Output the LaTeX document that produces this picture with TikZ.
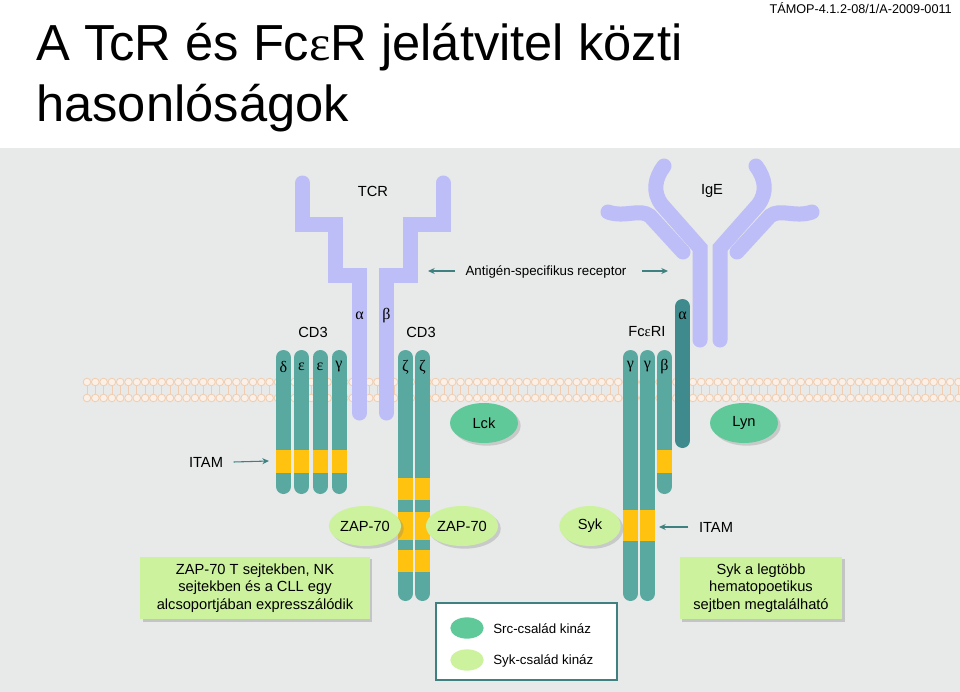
\documentclass[tikz,border=0pt]{standalone}
\usepackage{fontspec}
\setmainfont{Liberation Sans}
\newfontfamily\grk{Liberation Serif}
\usetikzlibrary{shadows,shapes.geometric,arrows.meta}
\definecolor{bgc}{HTML}{E8E9E9}
\definecolor{teal1}{HTML}{5AA9A1}
\definecolor{teal2}{HTML}{3E8A8C}
\definecolor{purp}{HTML}{BDBDF7}
\definecolor{yel}{HTML}{FFC20E}
\definecolor{memb}{HTML}{F0CDB0}
\definecolor{srcg}{HTML}{60C999}
\definecolor{sykg}{HTML}{CDF29E}
\definecolor{arr}{HTML}{3F8080}
\newcommand\mychain[4]{\draw[#4,line width=11.25pt,line cap=round] (#1,#2+7.5)--(#1,#3-7.5);}
\newcommand\myband[3]{\fill[yel] (#1-7.5,#2) rectangle (#1+7.5,#3);}
\tikzset{
  lbl/.style={font=\fontsize{11}{13}\selectfont,inner sep=1pt},
  gl/.style={font=\grk\fontsize{12}{14}\selectfont,inner sep=0pt},
  src/.style={ellipse,fill=srcg,minimum width=51pt,minimum height=30pt,inner sep=1pt,font=\fontsize{11}{13}\selectfont,drop shadow={opacity=0.3,shadow xshift=2pt,shadow yshift=-2pt}},
  syk/.style={ellipse,fill=sykg,minimum width=46pt,minimum height=30pt,inner sep=0.5pt,font=\fontsize{11}{13}\selectfont,drop shadow={opacity=0.3,shadow xshift=2pt,shadow yshift=-2pt}},
  tbox/.style={fill=sykg,align=center,font=\fontsize{11}{13}\selectfont,drop shadow={opacity=0.35,shadow xshift=2pt,shadow yshift=-2pt}},
  ar/.style={-{Stealth[length=5pt,width=4.5pt]},arr,line width=0.8pt},
  purpl/.style={purp,line width=11.25pt,line cap=round,line join=miter}
}
\begin{document}
\begin{tikzpicture}[x=0.75pt,y=-0.75pt]
\useasboundingbox (0,0) rectangle (960,692);
\fill[white] (0,0) rectangle (960,148);
\fill[bgc] (0,148) rectangle (960,692);
% title
\node[anchor=north west,align=left,inner sep=0pt,font=\fontsize{38}{46}\selectfont] (title) at (36,23) {A TcR és Fc\grk ε\rmfamily R jelátvitel közti\\hasonlóságok};
\node[anchor=north east,inner sep=0pt,font=\fontsize{9.5}{11}\selectfont] (tamop) at (952,2) {TÁMOP-4.1.2-08/1/A-2009-0011};
% membrane
\foreach \i in {0,...,105}{
  \pgfmathsetmacro\xx{87+8.3*\i}
  \draw[memb,line width=0.5pt] (\xx,386)--(\xx,394);
  \draw[memb,line width=0.6pt,fill=white!70!memb] (\xx,382) circle (3.8);
  \draw[memb,line width=0.6pt,fill=white!70!memb] (\xx,398) circle (3.8);
}
% TCR
\draw[purpl] (302.5,183)--(302.5,224)--(335.5,224)--(335.5,275)--(359.5,275)--(359.5,413);
\draw[purpl] (443,183)--(443,224)--(410,224)--(410,275)--(386.5,275)--(386.5,413);
% IgE
\draw[purp,line width=11.25pt,line cap=round] (700,340)--(700,248)--(662,205) .. controls (652,192) and (655,178) .. (664,166);
\draw[purp,line width=11.25pt,line cap=round] (720,340)--(720,248)--(758,205) .. controls (768,192) and (765,178) .. (756,166);
\draw[purp,line width=11.25pt,line cap=round] (683,252)--(650,216) .. controls (640,208) and (625,218) .. (608,212);
\draw[purp,line width=11.25pt,line cap=round] (737,252)--(770,216) .. controls (780,208) and (795,218) .. (812,212);
% chains
\foreach \x in {283.5,301.5,320,339}{\mychain{\x}{350}{494}{teal1}\myband{\x}{450}{473}}
\foreach \x in {405.5,422.5}{\mychain{\x}{350}{601}{teal1}\myband{\x}{478}{500}\myband{\x}{512}{540}\myband{\x}{550}{572}}
\foreach \x in {630.5,647.5}{\mychain{\x}{350}{601}{teal1}\myband{\x}{510}{541}}
\mychain{664.5}{350}{494}{teal1}\myband{664.5}{450}{473}
\mychain{682.5}{299}{448}{teal2}
% labels
\node[lbl] (tcr) at (373,191) {TCR};
\node[lbl] (ige) at (712,191) {IgE};
\node[lbl,font=\fontsize{10}{12}\selectfont] (asr) at (546,272) {Antigén-specifikus receptor};
\coordinate (al) at (428,271); \coordinate (arr) at (668,271);
\coordinate (alb) at (455,271); \coordinate (arb) at (642,271);
\draw[ar] (alb) -- (al);
\draw[ar] (arb) -- (arr);
\node[gl] (ta) at (359.5,316) {α};
\node[gl] (tb) at (386.5,316) {β};
\node[lbl] (cd3a) at (313,332) {CD3};
\node[lbl] (cd3b) at (421,332) {CD3};
\node[lbl] (fce) at (647,332) {Fc{\grk ε}RI};
\node[gl] (fa) at (682.5,316) {α};
\foreach \x/\g in {283.5/δ,301.5/ε,320/ε,339/γ,405.5/ζ,422.5/ζ,630.5/γ,647.5/γ,664.5/β}{\node[gl] at (\x,367) {\g};}
% kinases
\node[src] (lck) at (484,423) {Lck};
\node[src] (lyn) at (744,423) {Lyn};
\node[syk] (z1) at (365,526) {ZAP-70};
\node[syk] (z2) at (462,526) {ZAP-70};
\node[syk] (syk) at (590,526) {Syk};
% ITAM
\node[lbl] (itam1) at (206,462) {ITAM};
\coordinate (i1) at (269,461);
\draw[ar] (itam1.east)++(9,0) -- (i1);
\node[lbl] (itam2) at (716,527) {ITAM};
\coordinate (i2) at (659,527);
\draw[ar] (itam2.west)++(-9,0) -- (i2);
% text boxes
\node[tbox,minimum width=172pt,minimum height=47pt] (t1) at (255,588) {ZAP-70 T sejtekben, NK\\sejtekben és a CLL egy\\alcsoportjában expresszálódik};
\node[tbox,minimum width=122pt,minimum height=47pt] (t2) at (761,588) {Syk a legtöbb\\hematopoetikus\\sejtben megtalálható};
% legend
\draw[arr,fill=white,line width=0.8pt] (436,603) rectangle (617,680);
\node[ellipse,fill=srcg,minimum width=25pt,minimum height=16pt,inner sep=0pt] (ls) at (467,628) {};
\node[ellipse,fill=sykg,minimum width=25pt,minimum height=16pt,inner sep=0pt] (ly) at (467,660) {};
\node[anchor=west,font=\fontsize{10}{12}\selectfont,inner sep=0pt] (lst) at (493,629) {Src-család kináz};
\node[anchor=west,font=\fontsize{10}{12}\selectfont,inner sep=0pt] (lyt) at (493,661) {Syk-család kináz};
\end{tikzpicture}
\end{document}
